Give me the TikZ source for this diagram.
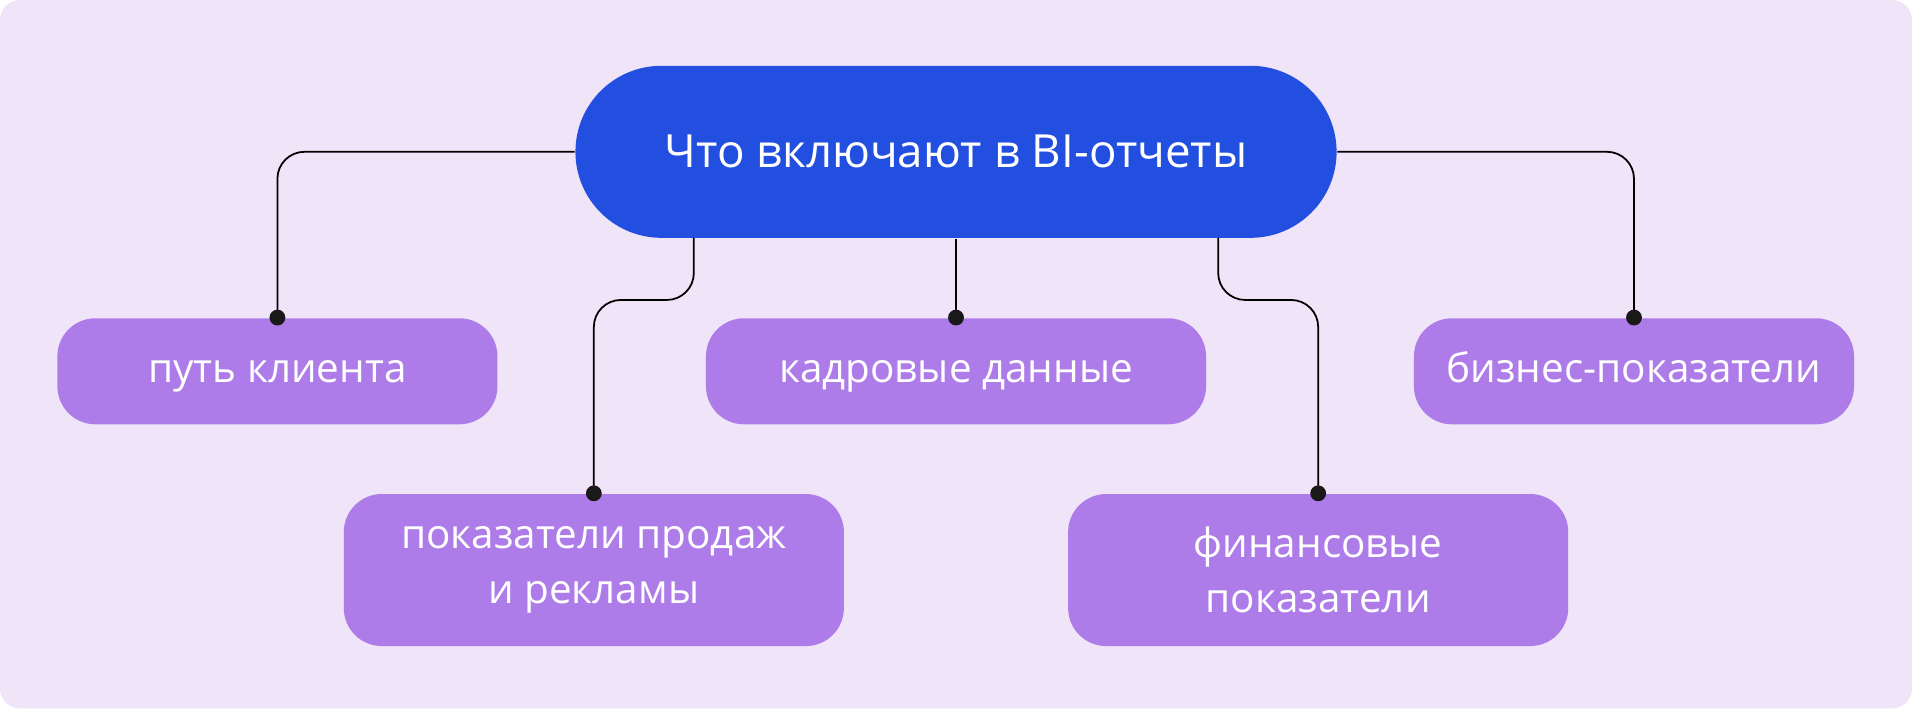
\documentclass[tikz,border=0pt]{standalone}
\usepackage{fontspec}
\setmainfont{Open Sans}
\usetikzlibrary{positioning}
\definecolor{bgcol}{HTML}{EFE4F8}
\definecolor{topcol}{HTML}{234FE0}
\definecolor{itemcol}{HTML}{AE7CE8}
\tikzset{
    topbox/.style={fill=topcol, text=white, rounded corners=0.86cm,
        minimum width=7.61cm, minimum height=1.72cm, font=\fontsize{13}{15}\selectfont},
    itembox/.style={fill=itemcol, text=white, rounded corners=0.38cm, align=center,
        font=\fontsize{11.5}{15.5}\selectfont},
    smallbox/.style={itembox, minimum width=4.40cm, minimum height=1.06cm},
    bigbox/.style={itembox, minimum width=5.00cm, minimum height=1.52cm},
    wire/.style={draw=black, line width=0.5pt, rounded corners=0.27cm},
    dot/.style={circle, fill=black!90, inner sep=0pt, minimum size=4.5pt}
}
\begin{document}
\begin{tikzpicture}[x=0.012194cm, y=-0.012194cm]
    \fill[bgcol, rounded corners=0.2cm] (0,0) rectangle (1568,581);
    \useasboundingbox (0,0) rectangle (1568,581);
    \node[topbox] (top) at (784,124.5) {Что включают в BI-отчеты};
    \node[smallbox] (klient) at (227.5,304.5) {\strut путь клиента};
    \node[smallbox, minimum width=5.00cm] (kadr) at (784,304.5) {\strut кадровые данные};
    \node[smallbox] (biz) at (1340,304.5) {\strut бизнес-показатели};
    \node[bigbox] (prod) at (487,467.5) {показатели продаж\\и рекламы};
    \node[bigbox] (fin) at (1081,467.5) {финансовые\\показатели};
    % taps on the lower edge of the title
    \coordinate (tapL) at (569,195);
    \coordinate (tapR) at (999,195);
    \draw[wire] (top.west) -| (klient.north);
    \draw[wire] (top.east) -| (biz.north);
    \draw[wire] (top.south) -- (kadr.north);
    \draw[wire] (tapL) -- (569,246) -| (prod.north);
    \draw[wire] (tapR) -- (999,246) -| (fin.north);
    \foreach \n in {klient, kadr, biz, prod, fin}
        \node[dot] at (\n.north) {};
\end{tikzpicture}
\end{document}
